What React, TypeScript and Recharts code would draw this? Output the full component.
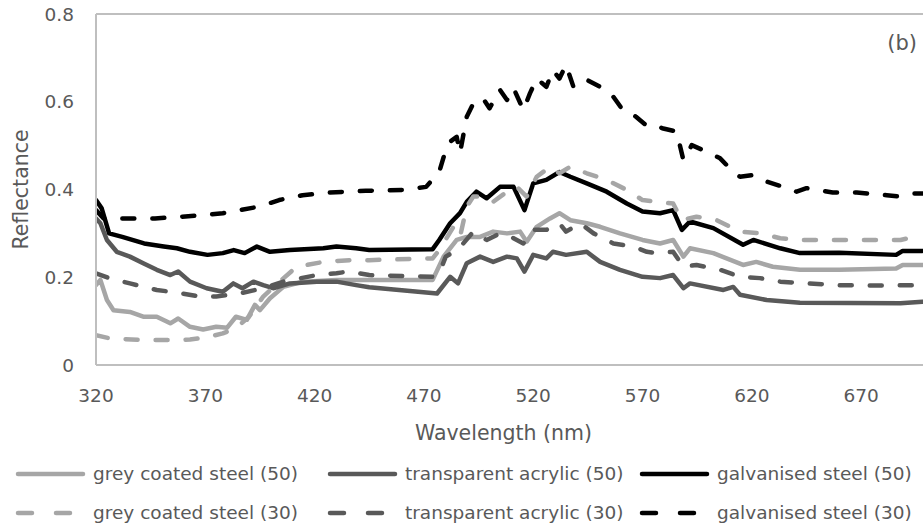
import React from 'react';
import { LineChart, Line, XAxis, YAxis, ReferenceLine, Legend } from 'recharts';

type Pt = [number, number]; // [wavelength nm, reflectance]

const wavelengthTicks = [320, 370, 420, 470, 520, 570, 620, 670];
const reflectanceTicks = [0, 0.2, 0.4, 0.6, 0.8];

const greyCoated50: Pt[] = [
  [320, 0.182], [322, 0.194], [325, 0.148], [328, 0.125], [335.5, 0.121], [341.6, 0.11], [347.8, 0.11],
  [354, 0.095], [357.6, 0.106], [363, 0.087], [369, 0.081], [375, 0.087], [380, 0.085], [384, 0.11],
  [389, 0.103], [392.7, 0.137], [395, 0.125], [399.6, 0.152], [405.7, 0.178], [414.8, 0.19], [430, 0.194],
  [445, 0.194], [474, 0.194], [479, 0.247], [485, 0.285], [489.6, 0.292], [495.7, 0.292], [501.7, 0.304],
  [508, 0.3], [514, 0.304], [517, 0.281], [521.6, 0.315], [527.7, 0.334], [532, 0.346], [537, 0.33],
  [544.5, 0.323], [550.6, 0.315], [559.7, 0.3], [570, 0.285], [578, 0.277], [584, 0.285], [588.7, 0.247],
  [591.7, 0.266], [602.4, 0.255], [616, 0.228], [622, 0.235], [629.6, 0.224], [642, 0.217], [660, 0.217],
  [686, 0.22], [689, 0.228], [698, 0.228],
];

const acrylic50: Pt[] = [
  [320, 0.334], [322, 0.323], [325, 0.285], [329.5, 0.258], [335.5, 0.247], [341.6, 0.232], [347.8, 0.217],
  [354, 0.205], [357.6, 0.213], [363, 0.19], [370.6, 0.175], [378, 0.167], [382.8, 0.186], [387, 0.175],
  [392, 0.19], [396.5, 0.182], [401, 0.175], [408.7, 0.186], [421, 0.19], [430, 0.19], [439, 0.182],
  [445, 0.177], [476, 0.163], [482, 0.201], [485.6, 0.186], [489.6, 0.232], [495.7, 0.247], [501.7, 0.235],
  [508, 0.247], [512.5, 0.243], [516, 0.213], [520, 0.251], [526, 0.243], [529, 0.258], [535, 0.251],
  [544.5, 0.258], [550.6, 0.235], [559.7, 0.217], [570, 0.201], [578, 0.198], [584, 0.205], [588.7, 0.175],
  [591.7, 0.186], [607, 0.171], [611.5, 0.178], [614.6, 0.16], [626.8, 0.148], [642, 0.142], [688, 0.141],
  [698, 0.144],
];

const galvanised50: Pt[] = [
  [320, 0.376], [322.6, 0.357], [326, 0.3], [332, 0.292], [342, 0.277], [351, 0.27], [357, 0.266],
  [363, 0.258], [371, 0.251], [378, 0.255], [383, 0.262], [388, 0.255], [393.6, 0.27], [399.6, 0.258],
  [408.7, 0.262], [424, 0.266], [430, 0.27], [439, 0.266], [445, 0.262], [474, 0.264], [477, 0.285],
  [482, 0.323], [486.5, 0.346], [489.6, 0.372], [494, 0.395], [498.7, 0.38], [504.8, 0.406], [511, 0.406],
  [516, 0.353], [520, 0.414], [526, 0.422], [532, 0.44], [537, 0.429], [544.5, 0.414], [553.6, 0.395],
  [562.8, 0.368], [570, 0.35], [578, 0.346], [584, 0.353], [588, 0.308], [591.7, 0.327], [602.4, 0.312],
  [616, 0.274], [620.7, 0.285], [633, 0.266], [642, 0.255], [660, 0.256], [686, 0.251], [689, 0.26],
  [698, 0.26],
];

const greyCoated30: Pt[] = [
  [320, 0.068], [326, 0.061], [340, 0.057], [355, 0.057], [363, 0.058], [370.6, 0.063], [378, 0.072],
  [384, 0.084], [390, 0.11], [396.5, 0.156], [404, 0.19], [411.8, 0.224], [424, 0.235], [436, 0.239],
  [445, 0.239], [474, 0.243], [477, 0.262], [483.5, 0.315], [486.5, 0.292], [489.6, 0.361], [492.6, 0.384],
  [497, 0.384], [501.7, 0.372], [508, 0.395], [512.5, 0.406], [517, 0.384], [521.6, 0.429], [527.7, 0.452],
  [532, 0.437], [537, 0.452], [544.5, 0.437], [553.6, 0.422], [562.8, 0.399], [570, 0.376], [576.6, 0.372],
  [584, 0.368], [588, 0.33], [594.7, 0.338], [604, 0.33], [614.6, 0.304], [623.7, 0.3], [633, 0.289],
  [640.5, 0.285], [675.6, 0.285], [688, 0.285], [694, 0.292], [698, 0.292],
];

const acrylic30: Pt[] = [
  [320, 0.209], [326, 0.198], [335.5, 0.186], [347.8, 0.171], [357, 0.165], [367.6, 0.156], [375, 0.156],
  [385.6, 0.163], [396.5, 0.175], [405.7, 0.19], [421, 0.205], [430, 0.209], [435.3, 0.213], [445, 0.205],
  [474, 0.201], [477, 0.209], [480, 0.247], [485, 0.262], [488, 0.277], [492.6, 0.304], [498.7, 0.285],
  [504.8, 0.3], [511, 0.289], [515.5, 0.277], [520, 0.308], [526, 0.308], [532, 0.323], [535, 0.304],
  [541.5, 0.323], [547.6, 0.3], [556.7, 0.277], [565.8, 0.27], [572, 0.258], [576.6, 0.255], [584, 0.258],
  [588.7, 0.224], [594.7, 0.228], [605.5, 0.217], [614.6, 0.201], [623.7, 0.198], [633, 0.19], [645, 0.186],
  [660, 0.182], [675.6, 0.181], [698, 0.182],
];

const galvanised30: Pt[] = [
  [320, 0.353], [323.5, 0.334], [332, 0.334], [347, 0.334], [359.4, 0.338], [370, 0.342], [378, 0.346],
  [385.6, 0.353], [394.7, 0.361], [403.8, 0.376], [414.5, 0.387], [426.6, 0.393], [443.4, 0.397], [460, 0.399],
  [471, 0.406], [477, 0.44], [480, 0.49], [482, 0.509], [485, 0.52], [486.5, 0.483], [489.6, 0.566],
  [492.6, 0.596], [497, 0.608], [500, 0.585], [504.8, 0.627], [508, 0.604], [511, 0.631], [515.5, 0.581],
  [518.5, 0.619], [521.6, 0.653], [526, 0.634], [529, 0.672], [532, 0.653], [535, 0.684], [538.4, 0.634],
  [544.5, 0.65], [550.6, 0.634], [556.7, 0.611], [561, 0.581], [567, 0.566], [572, 0.545], [575, 0.547],
  [579.5, 0.539], [585.6, 0.532], [588.7, 0.467], [592.5, 0.501], [599.4, 0.486], [605.5, 0.471],
  [611.5, 0.44], [614.6, 0.429], [620.7, 0.433], [626.8, 0.418], [634.4, 0.406], [640.5, 0.395], [645, 0.403],
  [657, 0.393], [668, 0.393], [681.7, 0.387], [688, 0.384], [694, 0.391], [698, 0.391],
];

const FONT = '"DejaVu Sans", Verdana, sans-serif';
const TEXT = '#595959';
const AXIS = '#bfbfbf';
const LIGHT = '#a6a6a6';
const DARK = '#595959';
const BLACK = '#000000';

const toRows = (pts: Pt[]) => pts.map(([nm, r]) => ({ nm, r }));

// Legend order: row 1 = solid (50) series, row 2 = dashed (30) series
const series = [
  { name: 'grey coated steel (50)', pts: greyCoated50, color: LIGHT, dashed: false },
  { name: 'transparent acrylic (50)', pts: acrylic50, color: DARK, dashed: false },
  { name: 'galvanised steel (50)', pts: galvanised50, color: BLACK, dashed: false },
  { name: 'grey coated steel (30)', pts: greyCoated30, color: LIGHT, dashed: true },
  { name: 'transparent acrylic (30)', pts: acrylic30, color: DARK, dashed: true },
  { name: 'galvanised steel (30)', pts: galvanised30, color: BLACK, dashed: true },
];

const XTitle = (props: any) => {
  const vb = props.viewBox || { x: 0, y: 0, width: 0 };
  const cx = vb.x + vb.width / 2 - 6;
  return (
    <text x={cx} y={433} textAnchor="middle" dominantBaseline="central" fontFamily={FONT} fontSize={20.5} fill={TEXT}>
      Wavelength (nm)
    </text>
  );
};

const YTitle = (props: any) => {
  const vb = props.viewBox || { x: 0, y: 0, height: 0 };
  const cx = 21;
  const cy = vb.y + vb.height / 2;
  return (
    <text
      x={cx}
      y={cy}
      transform={`rotate(-90, ${cx}, ${cy})`}
      textAnchor="middle"
      dominantBaseline="central"
      fontFamily={FONT}
      fontSize={20.5}
      fill={TEXT}
    >
      Reflectance
    </text>
  );
};

const LegendBlock = () => (
  <div style={{ position: 'relative', width: 923, height: 75, fontFamily: FONT, fontSize: 18.5, color: TEXT }}>
    {series.map((s, i) => {
      const col = i % 3;
      const row = Math.floor(i / 3);
      return (
        <div
          key={s.name}
          style={{
            position: 'absolute',
            left: 14 + col * 312,
            top: row * 39,
            height: 39,
            display: 'flex',
            alignItems: 'center',
            whiteSpace: 'nowrap',
          }}
        >
          <svg width={79} height={10} style={{ display: 'block' }}>
            <line
              x1={4}
              x2={s.dashed ? 56 : 69}
              y1={5}
              y2={5}
              stroke={s.color}
              strokeWidth={4.5}
              strokeLinecap="round"
              strokeDasharray={s.dashed ? '14 24' : undefined}
            />
          </svg>
          <span>{s.name}</span>
        </div>
      );
    })}
  </div>
);

export default function App() {
  return (
    <div style={{ width: 923, height: 529, background: '#fff' }}>
      <style>{'body{margin:0;background:#fff}'}</style>
      <LineChart width={923} height={529} margin={{ top: 14, right: 0, bottom: 29, left: 0 }}>
        <XAxis
          type="number"
          dataKey="nm"
          domain={[320, 698.3]}
          ticks={wavelengthTicks}
          allowDataOverflow
          tickLine={false}
          tickSize={0}
          tickMargin={24}
          height={60}
          axisLine={{ stroke: AXIS, strokeWidth: 2 }}
          tick={{ fill: TEXT, fontSize: 18.5, fontFamily: FONT }}
          label={<XTitle />}
        />
        <YAxis
          type="number"
          domain={[0, 0.8]}
          ticks={reflectanceTicks}
          width={96}
          tickLine={false}
          tickSize={0}
          tickMargin={22}
          axisLine={{ stroke: AXIS, strokeWidth: 2 }}
          tick={{ fill: TEXT, fontSize: 18.5, fontFamily: FONT }}
          label={<YTitle />}
        />
        <ReferenceLine y={0.8} stroke={AXIS} strokeWidth={2} />
        {series.map((s) => (
          <Line
            key={s.name}
            data={toRows(s.pts)}
            dataKey="r"
            name={s.name}
            type="linear"
            stroke={s.color}
            strokeWidth={4.5}
            strokeLinecap="round"
            strokeLinejoin="round"
            strokeDasharray={s.dashed ? '12 18' : undefined}
            dot={false}
            activeDot={false}
            isAnimationActive={false}
          />
        ))}
        <Legend
          verticalAlign="bottom"
          content={<LegendBlock />}
          wrapperStyle={{ left: 0, top: 454, width: 923, height: 75 }}
        />
        <text x={917} y={43} textAnchor="end" dominantBaseline="central" fontFamily={FONT} fontSize={21} fill={TEXT}>
          (b)
        </text>
      </LineChart>
    </div>
  );
}
